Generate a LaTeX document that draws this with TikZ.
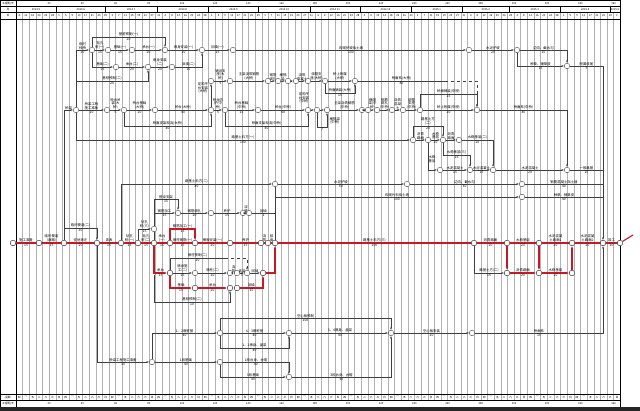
\documentclass[tikz,border=0pt]{standalone}
\usepackage{fontspec}
\newfontfamily\cjk{Noto Sans CJK SC}
\usetikzlibrary{arrows.meta}
\definecolor{critred}{RGB}{200,25,35}
\definecolor{gridc}{RGB}{178,178,178}
\def\wkday#1{\ifcase#1 四\or 一\or 五\or 二\or 六\or 三\or 日\fi}
\begin{document}
\begin{tikzpicture}[x=1pt,y=-1pt,
  nd/.style={circle,draw=black!80,fill=white,line width=0.35pt,inner sep=0pt,minimum size=5.5pt},
  act/.style={draw=black!75,line width=0.4pt,-{Latex[length=2.4pt,width=1.8pt]}},
  ln/.style={draw=black!75,line width=0.4pt},
  crit/.style={draw=critred,line width=1.1pt,-{Latex[length=3pt,width=2.4pt]}},
  critln/.style={draw=critred,line width=1.1pt},
  lb/.style={above,inner sep=0.5pt,font=\cjk\fontsize{3.4}{3.8}\selectfont,align=center},
  db/.style={below,inner sep=0.5pt,font=\cjk\fontsize{3.4}{3.8}\selectfont},
  tx/.style={inner sep=0.5pt,font=\cjk\fontsize{3.4}{3.8}\selectfont,align=center},
  hd/.style={inner sep=0pt,font=\cjk\fontsize{2.7}{3}\selectfont},
]
\useasboundingbox (0,0) rectangle (640,411);
\fill[white] (0,0) rectangle (640,411);
% grid
\foreach \i in {0,...,91} {\draw[gridc,line width=0.3pt] ({16+\i*6.64},12.5) -- ({16+\i*6.64},400);}
% frame and header
\draw[line width=0.45pt] (0.3,0.3) rectangle (620,407);
\draw[line width=0.5pt] (16,0.3) -- (16,407);
\foreach \yy in {6.5,12.5,19,394,400} {\draw[line width=0.35pt] (0.3,\yy) -- (620,\yy);}
\foreach \xx in {55.8,105.6,157,208.6,258.4,310,360,411,462.5,509,560.5,610} {\draw[line width=0.35pt] (\xx,6.5) -- (\xx,12.5);}
\foreach \k [evaluate=\k as \v using int(20*\k)] in {1,...,18} {
  \node[hd] at ({16+\k*33.2},3.4) {\v};
  \node[hd] at ({16+\k*33.2},403.2) {\v};
}
\foreach \xx/\mm in {35.9/2014.5,80.7/2014.6,131.3/2014.7,182.8/2014.8,233.5/2014.9,284.2/2014.10,335/2014.11,385.5/2014.12,436.7/2015.1,485.7/2015.2,534.7/2015.3,585.2/2015.4,615/2015.5} {\node[hd] at (\xx,9.6) {\mm};}
\foreach \d [count=\j from 0] in {8,12,16,20,24,28,1,5,9,13,17,21,25,29,3,7,11,15,19,23,27,31,4,8,12,16,20,24,28,1,5,9,13,17,21,25,29,3,7,11,15,19,23,27,31,4,8,12,16,20,24,28,2,6,10,14,18,22,26,30,3,7,11,15,19,23,27,31,4,8,12,16,20,24,28,4,8,12,16,20,24,28,1,5,9,13,17,21,25,29,3} {
  \node[hd] at ({16+(\j+0.5)*6.64},15.9) {\d};
  \pgfmathtruncatemacro\mw{mod(\j,7)}
  \node[hd] at ({16+(\j+0.5)*6.64},397.1) {\wkday{\mw}};
}
\node[hd] at (8,3.4) {工程周/天};
\node[hd] at (8,9.6) {月};
\node[hd] at (8,15.9) {日};
\node[hd] at (8,397.1) {星期};
\node[hd] at (8,403.2) {工程周/天};
\fill[black!85] (0,407) rectangle (640,411);

% ---------- nodes ----------
\foreach \n/\x in {m1/13,m2/39,m3/64,m4/97,m5/121,m6/138,m7/154,m8/170,m9/195,m10/230,m11/261,m12/268,m13/275,m14/474,m15/507,m16/539,m17/572,m18/603,m19/620} {\node[nd] (\n) at (\x,243) {};}
\foreach \n/\x in {r1/507,r2/539,r3/572} {\node[nd] (\n) at (\x,273) {};}
\foreach \n/\x in {A/92,B1/108,B2/132,B3/165,B4/202,B5/233,T1/469,T2/517} {\node[nd] (\n) at (\x,50) {};}
\node[nd] (T3) at (567,66) {};
\foreach \n/\x in {C1/116,C2/148,C3/172} {\node[nd] (\n) at (\x,67) {};}
\foreach \n/\x in {n0/76,n1/107,n2/124,n3/155,n4/211,n5/225,n6/258,n7/308,n8/317,n9/327,n10/362,n11/368,n12/377,n13/392,n14/403,n16/420,n17/477} {\node[nd] (\n) at (\x,110) {};}
\foreach \n/\x in {p1/211,p2/230,p3/268,p4/278,p5/288,p6/296,p7/308,p8/325,p9/355} {\node[nd] (\n) at (\x,81) {};}
\foreach \n/\x in {q1/413,q2/428,q3/443,q4/459} {\node[nd] (\n) at (\x,140) {};}
\foreach \n/\x in {U1/440,U2/470,U3/493,U5/567} {\node[nd] (\n) at (\x,170) {};}
\node[nd] (W1) at (275,184) {};
\node[nd] (W2) at (407,184) {};
\node[nd] (W3) at (522,184) {};
\node[nd] (W4) at (522,197) {};
\node[nd] (K1) at (154,229) {};
\foreach \n/\x in {S1/178,S2/211,S3/243,S4/249} {\node[nd] (\n) at (\x,213) {};}
\foreach \n/\x in {L1/170,L2/195,L3/230,L4/237,L5/247,L6/263} {\node[nd] (\n) at (\x,273) {};}
\foreach \n/\x in {M1/195,M2/230,M3/237} {\node[nd] (\n) at (\x,288) {};}
\node[nd] (X1) at (152,362) {};
\node[nd] (Y1) at (220,333) {};
\node[nd] (Y2) at (289,333) {};
\node[nd] (Y3) at (391,333) {};
\node[nd] (Y4) at (472,333) {};
\node[nd] (Z1) at (220,362) {};
\node[nd] (Z2) at (289,377) {};
% junction coordinates
\coordinate (jR66) at (603,66);
\coordinate (jR170) at (603,170);
\coordinate (jR184) at (603,184);
\coordinate (jR197) at (603,197);
\coordinate (jR333) at (603,333);
\coordinate (j81) at (76,81);
\coordinate (j228) at (64,228);
\coordinate (j197) at (275,197);
\coordinate (j213) at (154,213);
\coordinate (j213r) at (275,213);
\coordinate (j275) at (154,275);
\coordinate (jd) at (445,81);
\coordinate (jdl) at (225,258);
\coordinate (tail) at (633,235);

% ---------- other activities (drawn first) ----------
\draw[act] (m3) -- (64,110) -- node[lb]{桥梁} (n0);
\draw[act] (j228) -| node[lb,pos=0.25]{临时便道(二)} node[db,pos=0.25]{10} (m4);
\draw[act] (n0) -- (76,50) -- node[lb]{临时\\栈桥} node[db]{20} (A);
\draw[act] (n0) -- (76,140) -- node[lb]{路基土石方(一)} node[db]{100} (q1);
\draw[act] (j81) -| node[lb,pos=0.25]{基桩预制(二)} node[db,pos=0.25]{20} (C2);

% ---------- top block ----------
\draw[act] (A) -- node[lb]{钻孔\\桩(一)} node[db]{15} (B1);
\draw[act] (B1) -- node[lb]{基础(一)} node[db]{15} (B2);
\draw[act] (B2) -- node[lb]{承台(一)} node[db]{20} (B3);
\draw[act] (B3) -- node[lb]{墩身安装(一)} node[db]{20} (B4);
\draw[act] (B4) -- node[lb]{回填(一)} node[db]{15} (B5);
\draw[act] (A) -- (92,37) -| node[lb,pos=0.25]{基桩预制(一)} node[db,pos=0.25]{20} (B3);
\draw[act] (A) |- node[lb,pos=0.75]{基础(二)} node[db,pos=0.75]{15} (C1);
\draw[act] (C1) -- node[lb]{承台(二)} node[db]{20} (C2);
\draw[act] (C2) -- node[lb]{墩身安装\\(二)} node[db]{20} (C3);
\draw[act] (C3) -| node[lb,pos=0.25]{回填(二)} node[db,pos=0.25]{15} (B4);
\draw[act] (B5) -- node[lb]{石砌护坡挡土墙} node[db]{100} (T1);
\draw[act] (T1) -- node[lb]{水泥护坡} node[db]{20} (T2);
\draw[act] (T2) -| node[lb,pos=0.25]{边沟、截水沟} node[db,pos=0.25]{15} (T3);
\draw[act] (T2) |- node[lb,pos=0.75]{种草、铺草皮} node[db,pos=0.75]{15} (T3);
\draw[act] (T3) -- node[lb]{附属收尾} node[db]{5} (jR66) -- (m18);

% ---------- bridge rows ----------
\draw[act] (n0) -- node[lb]{桥梁工程\\施工准备} node[db]{20} (n1);
\draw[act] (n1) -- node[lb]{桥台吊\\装(大\\桥)} node[db]{5} (n2);
\draw[act] (n2) -- node[lb]{桥台基础\\(大桥)} node[db]{20} (n3);
\draw[act] (n3) -- node[lb]{桥台(大桥)} node[db]{40} (n4);
\draw[act] (n4) -- node[lb]{桥台防\\护(中\\桥)} node[db]{5} (n5);
\draw[act] (n5) -- node[lb]{桥台基础\\(中桥)} node[db]{15} (n6);
\draw[act] (n6) -- node[lb]{桥台(中桥)} node[db]{40} (n7);
\draw[act] (n2) -- (124,126) -| node[lb,pos=0.25]{桥面支架现浇(大桥)} node[db,pos=0.25]{40} (n4);
\draw[act] (n5) -- (225,126) -| node[lb,pos=0.25]{桥面支架现浇(中桥)} node[db,pos=0.25]{40} (n7);
\draw[act] (n7) -- (n8);
\node[tx] at (304,98) {定购平\\台安装\\(中桥)};
\draw[act] (n8) -- (n9);
\draw[act] (n8) -- (317,127) -| node[db,pos=0.25]{7} (n9);
\node[tx,anchor=west] at (329,121) {横隔梁\\(中桥)};
\draw[act] (n9) -- node[lb]{主梁浇筑钢筋\\(中桥)} (n10);
\draw[act] (n10) -- (n11);
\draw[act] (n11) -- node[lb]{横隔\\梁(中\\桥)} (n12);
\draw[act] (n12) -- node[lb]{钢筋\\绑扎\\(中桥)} (n13);
\draw[act] (n13) -- node[lb]{浇筑\\混凝\\土} (n14);
\draw[act] (n14) -- node[lb]{调整\\支座\\(中桥)} (n16);
\draw[act] (n16) -- node[lb]{桥上附属(中桥)} node[db]{20} (n17);
\draw[act] (n16) -- (420,94) -| node[lb,pos=0.25]{桥面铺装(中桥)} node[db,pos=0.25]{15} (n17);
\draw[act] (n17) -| node[lb,pos=0.25]{桥面系(中桥)} node[db,pos=0.25]{80} (U5);

\draw[act] (n4) -- (p1);
\node[tx] at (203,88) {定购平\\台安装\\(大桥)};
\draw[act] (p1) -- node[lb]{铺设支\\座(大\\桥)} node[db]{5} (p2);
\draw[act] (p2) -- node[lb]{主梁浇筑钢筋\\(大桥)} (p3);
\draw[act] (p3) -- node[lb]{钢筋\\绑扎} (p4);
\draw[act] (p4) -- node[lb]{横隔\\梁} (p5);
\draw[act] (p5) -- (p6);
\draw[act] (p6) -- node[lb]{浇筑\\混凝土} (p7);
\draw[act] (p7) -- node[lb]{调整支\\座(大桥)} (p8);
\draw[act] (p8) -- node[lb]{桥上附属\\(大桥)} (p9);
\draw[act] (p8) -- (325,93) -| node[lb,pos=0.25]{桥面铺装(大桥)} node[db,pos=0.25]{15} (p9);
\draw[ln] (p9) -- node[lb]{桥面系(大桥)} node[db]{80} (jd);
\draw[act,dashed] (jd) -| (n17);

% ---------- road block ----------
\draw[act] (q1) -- node[lb]{沥青\\路面} (q2);
\draw[act] (q2) -- node[lb]{水稳\\基层} node[db]{20} (q3);
\draw[act] (q3) -- node[lb]{沥青\\路面} (q4);
\draw[act] (q4) -| node[lb,pos=0.25]{水稳基层(二)} node[db,pos=0.25]{20} (U3);
\draw[act] (q1) -- (413,126) -| node[lb,pos=0.25]{路基土方\\(二)} node[db,pos=0.25]{20} (q3);
\draw[act] (q2) |- node[tx,right,pos=0.3]{水稳\\基层} (U1);
\draw[act] (q3) -- (443,155) -| node[lb,pos=0.25]{水稳基层(三)} node[db,pos=0.25]{15} (U2);
\draw[act] (U1) -- node[lb]{水泥混凝土} node[db]{15} (U2);
\draw[act] (U2) -- node[lb]{水泥混凝土} node[db]{15} (U3);
\draw[act] (U3) -- node[lb]{水泥混凝土} node[db]{20} (U5);
\draw[ln] (U5) -- node[lb]{一般路基} node[db]{15} (jR170);

% ---------- slope rows ----------
\draw[act] (m5) |- node[lb,pos=0.75]{路基土石方(二)} node[db,pos=0.75]{80} (W1);
\draw[act] (W1) -- node[lb]{水泥护坡} node[db]{60} (W2);
\draw[act] (W2) -- node[lb]{边沟、截水沟} node[db]{30} (W3);
\draw[ln] (W3) -- node[lb]{钢筋混凝土挡土墙} node[db]{40} (jR184);
\draw[ln] (W1) -- (m13);
\draw[act] (j197) -- node[lb]{石砌片石挡土墙} node[db]{100} (W4);
\draw[ln] (W4) -- node[lb]{种草、铺草皮} node[db]{40} (jR197);

% ---------- lower-left sub-blocks ----------
\draw[act] (m6) |- node[lb,pos=0.75]{钻孔\\桩(三)} node[db,pos=0.75]{15} (K1);
\draw[ln] (m7) -- (K1);
\draw[act] (K1) -- (154,199) -| node[lb,pos=0.25]{搭设支架} node[db,pos=0.25]{15} (S1);
\draw[act] (j213) -- node[lb]{钢筋加工} node[db]{15} (S1);
\draw[act] (S1) -- node[lb]{钢筋绑扎} node[db]{20} (S2);
\draw[act] (S2) -- node[lb]{养护} node[db]{15} (S3);
\draw[act] (S3) -- node[lb]{浇\\筑} (S4);
\draw[ln] (S4) -- node[lb]{回填} node[db]{1} (j213r);

\draw[act] (L1) -- node[lb]{墩身施\\工(二)} node[db]{15} (L2);
\draw[act] (L2) -- node[lb]{墩柱(二)} node[db]{20} (L3);
\draw[act] (L3) -- node[lb]{浇\\筑} (L4);
\draw[act] (L4) -- node[lb]{盖梁} node[db]{5} (L5);
\draw[act] (L5) -- node[lb]{回填} (L6);
\draw[ln] (L1) -- (170,258) -- node[lb]{墩柱预制(二)} node[db]{20} (jdl);
\draw[act,dashed] (jdl) -| (L5);
\draw[act] (j275) -- (154,302) -| node[lb,pos=0.25]{基桩预制(二)} node[db,pos=0.25]{10} (M2);

% ---------- bottom block ----------
\draw[act] (m4) |- node[lb,pos=0.75]{桥梁工程施工准备} node[db,pos=0.75]{30} (X1);
\draw[act] (X1) |- node[lb,pos=0.75]{1、2墩桩基} node[db,pos=0.75]{40} (Y1);
\draw[act] (X1) -- node[lb]{1段基础} node[db]{40} (Z1);
\draw[act] (Y1) -- node[lb]{4、3墩桩基} node[db]{40} (Y2);
\draw[act] (Y1) -- (220,348) -| node[lb,pos=0.25]{1、2墩身、盖梁} node[db,pos=0.25]{40} (Y2);
\draw[act] (Y1) -- (220,318) -| node[lb,pos=0.25]{空心板预制} node[db,pos=0.25]{100} (Y3);
\draw[act] (Y2) -- node[lb]{3、4墩身、盖梁} node[db]{40} (Y3);
\draw[act] (Z1) -| node[lb,pos=0.25]{1段台身、台帽} node[db,pos=0.25]{40} (Z2);
\draw[act] (Z1) |- node[lb,pos=0.75]{3段基础} node[db,pos=0.75]{40} (Z2);
\draw[act] (Z2) -| node[lb,pos=0.25]{3段台身、台帽} node[db,pos=0.25]{40} (Y3);
\draw[act] (Y3) -- node[lb]{空心板安装} node[db]{20} (Y4);
\draw[act] (Y4) -- node[lb]{桥面系} node[db]{15} (jR333) -- (m18);
\draw[act] (m14) |- node[lb,pos=0.75]{路基土方(二)} node[db,pos=0.75]{15} (r1);

% ---------- critical path (drawn last, on top) ----------
\draw[critln] (m1.center) -- (m19.center);
\draw[crit] (m1) -- node[lb]{施工准备} node[db]{15} (m2);
\draw[crit] (m2) -- node[lb]{临时便道\\(通路)} node[db]{15} (m3);
\draw[crit] (m3) -- node[lb]{征地拆迁} node[db]{20} (m4);
\draw[crit] (m4) -- node[lb]{清表} node[db]{15} (m5);
\draw[crit] (m5) -- node[lb]{钻孔\\桩(一)} node[db]{15} (m6);
\draw[crit] (m6) -- node[lb]{钻孔\\桩(二)} node[db]{15} (m7);
\draw[crit] (m7) -- node[lb]{承台\\(一)} node[db]{15} (m8);
\draw[crit] (m8) -- node[lb]{墩柱钢筋(一)} node[db]{15} (m9);
\draw[crit] (m9) -- node[lb]{模板安装(一)} node[db]{20} (m10);
\draw[crit] (m10) -- node[lb]{养护} node[db]{15} (m11);
\draw[crit] (m11) -- node[lb]{浇\\筑} (m12);
\draw[crit] (m12) -- node[lb]{回\\填} (m13);
\draw[crit] (m13) -- node[lb]{路基土石方(三)} node[db]{100} (m14);
\draw[crit] (m14) -- node[lb]{沥青路面} node[db]{20} (m15);
\draw[crit] (m15) -- node[lb]{水稳基层} node[db]{20} (m16);
\draw[crit] (m16) -- node[lb]{水泥混凝\\土路面1} node[db]{20} (m17);
\draw[crit] (m17) -- node[lb]{水泥混凝\\土路面2} node[db]{20} (m18);
\draw[crit] (m18) -- node[lb]{竣工} node[db]{10} (m19);
\draw[critln] (m19) -- (tail);
\draw[crit] (m8) -- (170,229) -| node[lb,pos=0.25]{钢筋加工(一)} node[db,pos=0.25]{15} (m9);
\draw[crit] (r1) -- node[lb]{沥青路面} node[db]{20} (r2);
\draw[crit] (r2) -- node[lb]{水稳基层} node[db]{20} (r3);
\draw[crit] (r3) -- (m17);
\draw[crit] (m15) -- (r1);
\draw[crit] (m16) -- (r2);
\draw[crit] (m7) |- node[lb,pos=0.75]{承台} node[db,pos=0.75]{15} (L1);
\draw[crit] (L6) -| (m13);
\draw[crit] (L1) |- node[lb,pos=0.75]{基础} node[db,pos=0.75]{15} (M1);
\draw[crit] (M1) -- node[lb]{承台} node[db]{20} (M2);
\draw[crit] (M2) -- (M3);
\draw[crit] (M3) -| node[lb,pos=0.25]{回填} node[db,pos=0.25]{15} (L6);
% redraw nodes on top of lines
\foreach \n in {m1,m2,m3,m4,m5,m6,m7,m8,m9,m10,m11,m12,m13,m14,m15,m16,m17,m18,m19,r1,r2,r3,L1,L6,M1,M2,M3} {\node[nd] at (\n) {};}
\end{tikzpicture}
\end{document}
